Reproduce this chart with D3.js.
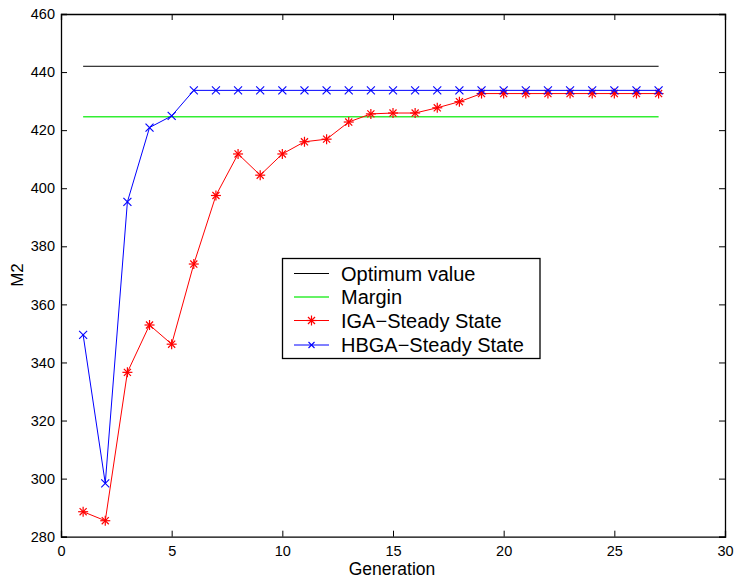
<!DOCTYPE html>
<html><head><meta charset="utf-8">
<script src="https://cdn.jsdelivr.net/npm/d3@7"></script>
<style>body{margin:0;background:#fff}svg{display:block}text{font-family:"Liberation Sans",Arial,Helvetica,sans-serif}</style>
</head><body><svg id="c" width="736" height="580"></svg>
<script>
const generations = d3.range(1, 28);
const optimumValue = 442;
const marginValue = 424.6;
const igaValues = [288.6, 285.5, 336.6, 352.9, 346.3, 373.9, 397.5, 411.8, 404.5, 411.8, 416.0, 416.9, 422.8, 425.6, 425.9, 425.9, 427.7, 429.8, 432.6, 432.6, 432.6, 432.6, 432.6, 432.6, 432.6, 432.6, 432.6];
const hbgaValues = [349.5, 298.4, 395.3, 420.9, 424.9, 433.7, 433.7, 433.7, 433.7, 433.7, 433.7, 433.7, 433.7, 433.7, 433.7, 433.7, 433.7, 433.7, 433.7, 433.7, 433.7, 433.7, 433.7, 433.7, 433.7, 433.7, 433.7];
const xTicks = [0, 5, 10, 15, 20, 25, 30];
const yTicks = [280, 300, 320, 340, 360, 380, 400, 420, 440, 460];
const legendLabels = ["Optimum value", "Margin", "IGA\u2212Steady State", "HBGA\u2212Steady State"];

const svg = d3.select("#c");
const L = 61, R = 725, T = 14, B = 536.7;
const x = d3.scaleLinear().domain([0, 30]).range([L, R]);
const y = d3.scaleLinear().domain([280, 460]).range([B, T]);

// axes
const tickLen = 6;
const ax = svg.append("g").attr("transform", `translate(0,${B})`)
  .call(d3.axisBottom(x).tickValues(xTicks).tickSize(-tickLen).tickPadding(tickLen + 3));
const ay = svg.append("g").attr("transform", `translate(${L},0)`)
  .call(d3.axisLeft(y).tickValues(yTicks).tickSize(-tickLen).tickPadding(6));
const at = svg.append("g").attr("transform", `translate(0,${T})`)
  .call(d3.axisTop(x).tickValues(xTicks).tickSize(-tickLen).tickFormat(""));
const ar = svg.append("g").attr("transform", `translate(${R},0)`)
  .call(d3.axisRight(y).tickValues(yTicks).tickSize(-tickLen).tickFormat(""));
[ax, ay, at, ar].forEach(g => {
  g.select(".domain").attr("stroke", "#000").attr("stroke-width", 1.3);
  g.selectAll(".tick line").attr("stroke", "#000");
  g.selectAll(".tick text").attr("font-size", 14.5).attr("fill", "#000")
    .attr("font-family", '"Liberation Sans",Arial,sans-serif');
});

svg.append("text").attr("x", 392).attr("y", 575).attr("text-anchor", "middle")
  .attr("font-size", 17.5).text("Generation");
svg.append("text").attr("transform", `translate(23,275) rotate(-90)`)
  .attr("text-anchor", "middle").attr("font-size", 17).text("M2");

const line = d3.line().x((d, i) => x(generations[i])).y(d => y(d));
const first = generations[0], last = generations[generations.length - 1];

// optimum
svg.append("line").attr("x1", x(first)).attr("x2", x(last))
  .attr("y1", y(optimumValue)).attr("y2", y(optimumValue))
  .attr("stroke", "#000").attr("stroke-width", 1);
// margin
svg.append("line").attr("x1", x(first)).attr("x2", x(last))
  .attr("y1", y(marginValue)).attr("y2", y(marginValue))
  .attr("stroke", "#33ee33").attr("stroke-width", 1.5);

function star(g, cx, cy, r, color) {
  for (let k = 0; k < 4; k++) {
    const a = k * Math.PI / 4;
    g.append("line").attr("x1", cx - r * Math.cos(a)).attr("y1", cy - r * Math.sin(a))
      .attr("x2", cx + r * Math.cos(a)).attr("y2", cy + r * Math.sin(a))
      .attr("stroke", color).attr("stroke-width", 1.2);
  }
}
function cross(g, cx, cy, r, color) {
  g.append("line").attr("x1", cx - r).attr("y1", cy - r).attr("x2", cx + r).attr("y2", cy + r)
    .attr("stroke", color).attr("stroke-width", 1.1);
  g.append("line").attr("x1", cx - r).attr("y1", cy + r).attr("x2", cx + r).attr("y2", cy - r)
    .attr("stroke", color).attr("stroke-width", 1.1);
}

// IGA
svg.append("path").attr("d", line(igaValues)).attr("fill", "none").attr("stroke", "#ff0000").attr("stroke-width", 1);
const gI = svg.append("g");
igaValues.forEach((v, i) => star(gI, x(generations[i]), y(v), 5, "#ff0000"));
// HBGA
svg.append("path").attr("d", line(hbgaValues)).attr("fill", "none").attr("stroke", "#0000ff").attr("stroke-width", 1);
const gH = svg.append("g");
hbgaValues.forEach((v, i) => cross(gH, x(generations[i]), y(v), 4, "#0000ff"));

// legend
const lg = svg.append("g");
lg.append("rect").attr("x", 282.5).attr("y", 258.5).attr("width", 257.5).attr("height", 100)
  .attr("fill", "#fff").attr("stroke", "#000").attr("stroke-width", 1.3);
const rowY = [273.5, 297, 320.5, 345];
const colors = ["#000", "#33ee33", "#ff0000", "#0000ff"];
legendLabels.forEach((lab, i) => {
  lg.append("line").attr("x1", 294).attr("x2", 329).attr("y1", rowY[i]).attr("y2", rowY[i])
    .attr("stroke", colors[i]).attr("stroke-width", i === 1 ? 1.5 : 1);
  if (i === 2) star(lg, 311.5, rowY[i], 5, colors[i]);
  if (i === 3) cross(lg, 311.5, rowY[i], 3, colors[i]);
  lg.append("text").attr("x", 341).attr("y", rowY[i]).attr("dy", "0.36em")
    .attr("font-size", 20).text(lab);
});
</script></body></html>
